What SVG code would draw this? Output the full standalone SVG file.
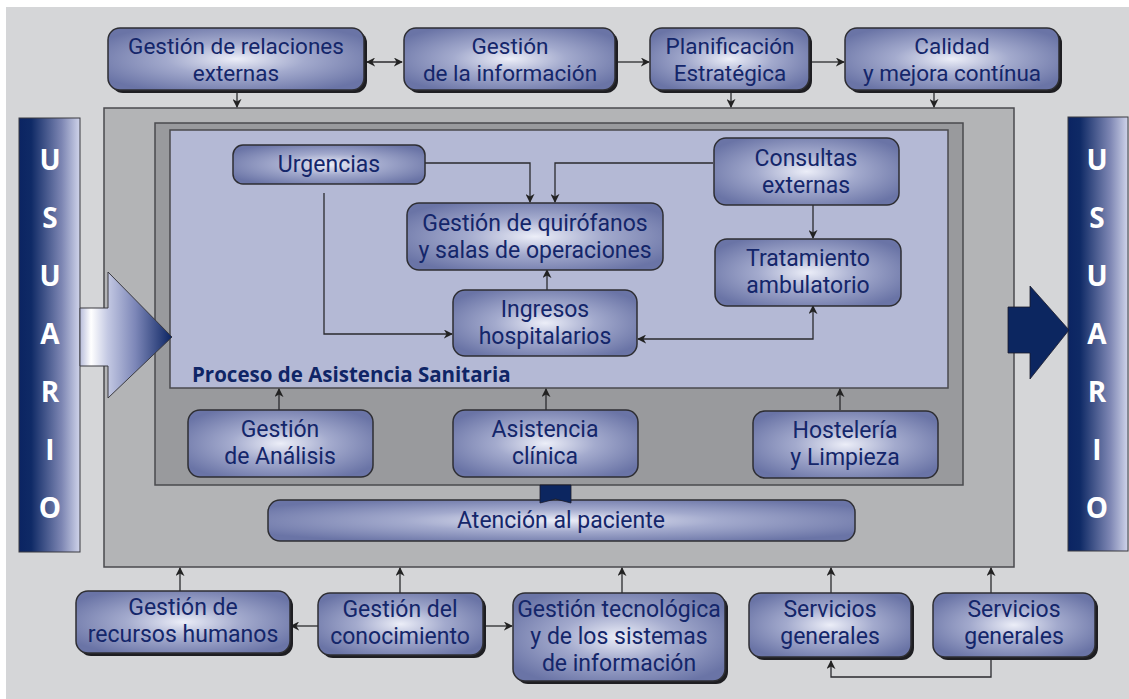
<svg xmlns="http://www.w3.org/2000/svg" width="1129" height="699" viewBox="0 0 1129 699">
<defs>
<radialGradient id="nodeGrad" cx="50%" cy="50%" r="60%">
<stop offset="0" stop-color="#eceef8"/>
<stop offset="0.45" stop-color="#a3aacd"/>
<stop offset="1" stop-color="#6a74a6"/>
</radialGradient>
<linearGradient id="barGrad" x1="0" y1="0" x2="1" y2="0">
<stop offset="0" stop-color="#0b2462"/>
<stop offset="0.2" stop-color="#0f2a66"/>
<stop offset="0.7" stop-color="#7d86b3"/>
<stop offset="1" stop-color="#d0d4ea"/>
</linearGradient>
<linearGradient id="arrowGrad" x1="0" y1="0" x2="1" y2="0">
<stop offset="0" stop-color="#b8bddb"/>
<stop offset="0.12" stop-color="#ffffff"/>
<stop offset="0.3" stop-color="#c4c9e3"/>
<stop offset="0.6" stop-color="#7d87b8"/>
<stop offset="1" stop-color="#0b2462"/>
</linearGradient>
<marker id="ah" viewBox="0 0 10 10" refX="9" refY="5" markerWidth="9" markerHeight="9" orient="auto-start-reverse" markerUnits="userSpaceOnUse">
<path d="M0,0 L10,5 L0,10 L3,5 z" fill="#222"/>
</marker>
</defs>
<style>
.node{fill:url(#nodeGrad);stroke:#2e2e33;stroke-width:1.5}
.sh{fill:#1e1e22}
.t{font-family:Roboto,"Liberation Sans",sans-serif;font-size:23px;fill:#14266a;text-anchor:middle}
.tt{font-family:Roboto,"Liberation Sans",sans-serif;font-size:22.5px;fill:#14266a;text-anchor:middle}
.c{fill:none;stroke:#2a2a2e;stroke-width:1.3;marker-end:url(#ah)}
.u{font-family:"Open Sans","Liberation Sans",sans-serif;font-size:28px;font-weight:bold;fill:#ffffff;text-anchor:middle}
</style>
<rect x="0" y="0" width="1129" height="699" fill="#ffffff"/>
<rect x="6" y="7" width="1123" height="692" fill="#d5d6d8"/>

<g id="containers">
<rect x="104" y="108" width="910" height="459" fill="#b3b4b6" stroke="#4a4a4e" stroke-width="1.5"/>
<rect x="155" y="123" width="808" height="362" fill="#999a9d" stroke="#4a4a4e" stroke-width="1.5"/>
<rect x="170" y="130" width="778" height="258" fill="#b4b9d5" stroke="#4a4a4e" stroke-width="1.5"/>
<text x="192" y="382" font-family="'Open Sans','Liberation Sans',sans-serif" font-size="20.5" font-weight="bold" fill="#0f2566">Proceso de Asistencia Sanitaria</text>
</g>

<g id="usuario-left">
<rect x="19" y="118" width="61" height="434" fill="url(#barGrad)" stroke="#3a3a40" stroke-width="1"/>
<text class="u" x="50" y="170">U</text>
<text class="u" x="50" y="228">S</text>
<text class="u" x="50" y="286">U</text>
<text class="u" x="50" y="344">A</text>
<text class="u" x="50" y="402">R</text>
<text class="u" x="50" y="460">I</text>
<text class="u" x="50" y="518">O</text>
</g>
<g id="arrow-in">
<path d="M80,308 L108,308 L108,272 L172,337 L108,398 L108,366 L80,366 z" fill="url(#arrowGrad)" stroke="#3a3a40" stroke-width="1"/>
</g>

<g id="usuario-right">
<rect x="1068" y="117" width="60" height="434" fill="url(#barGrad)" stroke="#3a3a40" stroke-width="1"/>
<text class="u" x="1097" y="170">U</text>
<text class="u" x="1097" y="228">S</text>
<text class="u" x="1097" y="286">U</text>
<text class="u" x="1097" y="344">A</text>
<text class="u" x="1097" y="402">R</text>
<text class="u" x="1097" y="460">I</text>
<text class="u" x="1097" y="518">O</text>
</g>
<g id="arrow-out">
<path d="M1008,307 L1030,307 L1030,286 L1069,330 L1030,379 L1030,353 L1008,353 z" fill="#0c2660" stroke="#1a1a2a" stroke-width="0.8"/>
</g>

<g id="connectors">
<path class="c" d="M367,62 L402,62" marker-start="url(#ah)"/>
<path class="c" d="M617,62 L649,62"/>
<path class="c" d="M812,62 L844,62"/>
<path class="c" d="M237,92 L237,107"/>
<path class="c" d="M731,92 L731,107"/>
<path class="c" d="M934,92 L934,107"/>
<path class="c" d="M425,163 L530,163 L530,202"/>
<path class="c" d="M713,163 L555,163 L555,202"/>
<path class="c" d="M324,193 L324,334 L452,334"/>
<path class="c" d="M547,290 L547,270"/>
<path class="c" d="M813,205 L813,238"/>
<path class="c" d="M638,339 L813,339 L813,306" marker-start="url(#ah)"/>
<path class="c" d="M279,410 L279,389"/>
<path class="c" d="M546,410 L546,389"/>
<path class="c" d="M840,410 L840,389"/>
<path class="c" d="M180,591 L180,568"/>
<path class="c" d="M400,593 L400,568"/>
<path class="c" d="M622,593 L622,568"/>
<path class="c" d="M831,593 L831,568"/>
<path class="c" d="M991,593 L991,568"/>
<path class="c" d="M318,626 L291,626"/>
<path class="c" d="M484,626 L512,626"/>
<path class="c" d="M991,660 L991,677 L831,677 L831,661"/>
</g>

<g id="n-relaciones">
<rect class="sh" x="111" y="31" width="256" height="62" rx="12"/>
<rect class="node" x="108" y="28" width="256" height="62" rx="12"/>
<text class="tt" x="236" y="54">Gestión de relaciones<tspan x="236" dy="26.5">externas</tspan></text>
</g>
<g id="n-informacion">
<rect class="sh" x="407" y="31" width="211" height="62" rx="12"/>
<rect class="node" x="404" y="28" width="211" height="62" rx="12"/>
<text class="tt" x="510" y="54">Gestión<tspan x="510" dy="26.5">de la información</tspan></text>
</g>
<g id="n-planificacion">
<rect class="sh" x="653" y="31" width="159" height="62" rx="12"/>
<rect class="node" x="650" y="28" width="159" height="62" rx="12"/>
<text class="tt" x="730" y="54">Planificación<tspan x="730" dy="26.5">Estratégica</tspan></text>
</g>
<g id="n-calidad">
<rect class="sh" x="848" y="31" width="214" height="62" rx="12"/>
<rect class="node" x="845" y="28" width="214" height="62" rx="12"/>
<text class="tt" x="952" y="54">Calidad<tspan x="952" dy="26.5">y mejora contínua</tspan></text>
</g>

<g id="n-urgencias">
<rect class="node" x="233" y="145" width="192" height="39" rx="10"/>
<text class="t" x="329" y="172">Urgencias</text>
</g>
<g id="n-consultas">
<rect class="node" x="714" y="138" width="185" height="67" rx="12"/>
<text class="t" x="806" y="166">Consultas<tspan x="806" dy="27">externas</tspan></text>
</g>
<g id="n-quirofanos">
<rect class="node" x="407" y="203" width="256" height="67" rx="12"/>
<text class="t" x="535" y="231">Gestión de quirófanos<tspan x="535" dy="27">y salas de operaciones</tspan></text>
</g>
<g id="n-tratamiento">
<rect class="node" x="715" y="239" width="186" height="67" rx="12"/>
<text class="t" x="808" y="266">Tratamiento<tspan x="808" dy="27">ambulatorio</tspan></text>
</g>
<g id="n-ingresos">
<rect class="node" x="453" y="290" width="184" height="66" rx="12"/>
<text class="t" x="545" y="317">Ingresos<tspan x="545" dy="27">hospitalarios</tspan></text>
</g>

<g id="n-analisis">
<rect class="node" x="188" y="410" width="185" height="67" rx="12"/>
<text class="t" x="280" y="437">Gestión<tspan x="280" dy="27">de Análisis</tspan></text>
</g>
<g id="n-asistencia">
<rect class="node" x="453" y="410" width="185" height="67" rx="12"/>
<text class="t" x="545" y="437">Asistencia<tspan x="545" dy="27">clínica</tspan></text>
</g>
<g id="n-hosteleria">
<rect class="node" x="753" y="411" width="185" height="67" rx="12"/>
<text class="t" x="845" y="438">Hostelería<tspan x="845" dy="27">y Limpieza</tspan></text>
</g>

<g id="n-atencion">
<rect class="node" x="268" y="500" width="587" height="41" rx="12"/>
<text class="t" x="561" y="528">Atención al paciente</text>
<path d="M540,485 L571,485 L571,503 L555.5,499 L540,503 z" fill="#0c2660" stroke="#1a1a2a" stroke-width="0.8"/>
</g>

<g id="n-rrhh">
<rect class="sh" x="79" y="594" width="214" height="62" rx="12"/>
<rect class="node" x="76" y="591" width="214" height="62" rx="12"/>
<text class="t" x="183" y="615">Gestión de<tspan x="183" dy="27">recursos humanos</tspan></text>
</g>
<g id="n-conocimiento">
<rect class="sh" x="321" y="596" width="165" height="62" rx="12"/>
<rect class="node" x="318" y="593" width="165" height="62" rx="12"/>
<text class="t" x="400" y="617">Gestión del<tspan x="400" dy="27">conocimiento</tspan></text>
</g>
<g id="n-tecnologica">
<rect class="sh" x="516" y="596" width="212" height="88" rx="12"/>
<rect class="node" x="513" y="593" width="212" height="88" rx="12"/>
<text class="t" x="619" y="617">Gestión tecnológica<tspan x="619" dy="27">y de los sistemas</tspan><tspan x="619" dy="27">de información</tspan></text>
</g>
<g id="n-servicios1">
<rect class="sh" x="752" y="596" width="162" height="64" rx="12"/>
<rect class="node" x="749" y="593" width="162" height="64" rx="12"/>
<text class="t" x="830" y="617">Servicios<tspan x="830" dy="27">generales</tspan></text>
</g>
<g id="n-servicios2">
<rect class="sh" x="936" y="596" width="162" height="64" rx="12"/>
<rect class="node" x="933" y="593" width="162" height="64" rx="12"/>
<text class="t" x="1014" y="617">Servicios<tspan x="1014" dy="27">generales</tspan></text>
</g>
</svg>
